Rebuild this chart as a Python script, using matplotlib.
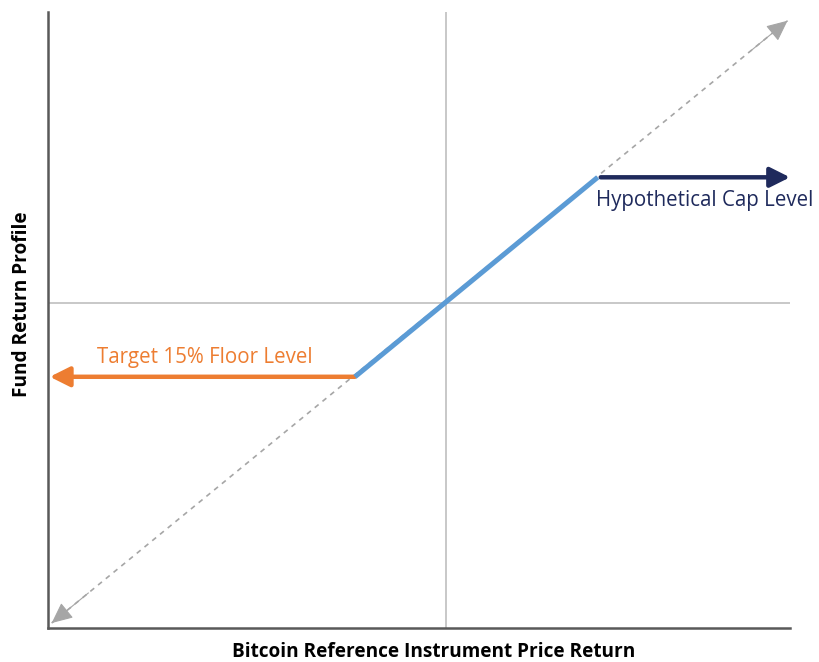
import matplotlib
matplotlib.use("Agg")
import matplotlib.pyplot as plt

# Payoff profile data (returns in %)
ref_x = [-65, 56.3]        # reference instrument 1:1 line
ref_y = [-65, 57.3]
fund_x = [-15, 25]         # buffered/capped fund segment
fund_y = [-15, 25.5]
floor_level = -15
cap_level = 25.5
floor_arrow_end = -65.3
cap_arrow_end = 56.7

floor_label = "Target 15% Floor Level"
cap_label = "Hypothetical Cap Level"
xlabel = "Bitcoin Reference Instrument Price Return"
ylabel = "Fund Return Profile"

plt.rcParams['font.family'] = ['Open Sans', 'DejaVu Sans']

fig = plt.figure(figsize=(8.19, 6.62), dpi=100)
ax = fig.add_axes([0.0586, 0.0514, 0.906, 0.930])
ax.set_xlim(-65.6, 56.7)
ax.set_ylim(-66, 59)

gray = '#a6a6a6'
ax.axvline(0, color='#bfbfbf', lw=1.2, zorder=1)
ax.axhline(0, color='#bfbfbf', lw=1.2, zorder=1)

# dashed 1:1 reference line with arrow heads at both ends
ax.plot(ref_x, ref_y, color=gray, lw=1.2, ls=(0, (3, 3)), zorder=2, clip_on=False)
for tip, back in [(0, 1), (1, 0)]:
    tx, ty = ref_x[tip], ref_y[tip]
    bx = tx + (ref_x[back] - tx) * 0.05
    by = ty + (ref_y[back] - ty) * 0.05
    ax.annotate('', xy=(tx, ty), xytext=(bx, by), annotation_clip=False,
                arrowprops=dict(arrowstyle='-|>,head_length=0.65,head_width=0.3',
                                mutation_scale=20, color=gray, lw=0.8,
                                shrinkA=0, shrinkB=0, clip_on=False))

# fund segment
ax.plot(fund_x, fund_y, color='#5b9bd5', lw=3.6, solid_capstyle='butt', zorder=4)

# floor arrow
ax.annotate('', xy=(floor_arrow_end, floor_level), xytext=(floor_level, floor_level),
            annotation_clip=False,
            arrowprops=dict(arrowstyle='-|>,head_length=0.6,head_width=0.3',
                            mutation_scale=20, color='#ed7d31', lw=3.2,
                            shrinkA=0, shrinkB=0), zorder=3)
ax.text(-39.7, -11.0, floor_label, color='#ed7d31', fontsize=14.8, ha='center', va='center')

# cap arrow
ax.annotate('', xy=(cap_arrow_end, cap_level), xytext=(cap_level, cap_level),
            annotation_clip=False,
            arrowprops=dict(arrowstyle='-|>,head_length=0.6,head_width=0.3',
                            mutation_scale=20, color='#1f2a5c', lw=3.2,
                            shrinkA=0, shrinkB=0, clip_on=False), zorder=3)
ax.text(24.7, 20.8, cap_label, color='#1f2a5c', fontsize=14.8, ha='left', va='center')

for s in ['top', 'right']:
    ax.spines[s].set_visible(False)
for s in ['left', 'bottom']:
    ax.spines[s].set_color('#595959')
    ax.spines[s].set_linewidth(1.8)
ax.set_xticks([])
ax.set_yticks([])

fig.text(0.529, 0.015, xlabel, fontsize=13.7, fontweight='bold', ha='center', va='center')
fig.text(0.027, 0.54, ylabel, fontsize=13.7, fontweight='bold', ha='center', va='center',
         rotation=90)

fig.savefig("out.png")
